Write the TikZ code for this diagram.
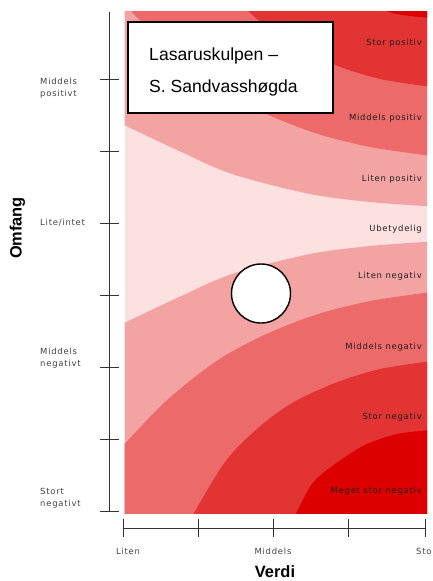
\documentclass[tikz,border=0pt]{standalone}
\usepackage{fontspec}
\setmainfont{Liberation Sans}
\newfontfamily\etikettfont[LetterSpace=9]{DejaVu Sans}
\usetikzlibrary{positioning}
\definecolor{cubet}{HTML}{FDE0E0}
\definecolor{cliten}{HTML}{F4A3A3}
\definecolor{cmiddels}{HTML}{ED6A6A}
\definecolor{cstor}{HTML}{E33434}
\definecolor{cmeget}{HTML}{DC0000}
\tikzset{
  akse/.style={draw=black!80, line width=0.8pt},
  etikett/.style={font=\etikettfont\fontsize{7.2}{10.2}\selectfont, text=black!75, inner sep=0pt},
  bandtekst/.style={etikett, text=black!88, anchor=east},
  aksetittel/.style={font=\bfseries\fontsize{14}{16}\selectfont, inner sep=0pt},
  tittelboks/.style={draw, line width=1.3pt, fill=white, minimum width=6.15cm, minimum height=2.73cm},
  tittel/.style={font=\fontsize{15}{18}\selectfont, anchor=base west, inner sep=0pt},
}
% one half of the fan (negative side), mirrored for the positive side
\newcommand{\bandhalvdel}{%
  \fill[cliten] plot[smooth] coordinates {(120,325) (177,298) (232,274) (310,254) (370,246) (432,241.5)} -- (432,520) -- (120,520) -- cycle;
  \fill[cmiddels] plot[smooth] coordinates {(120,449) (165,402) (215,362) (262,336) (315,315) (370,301) (432,292)} -- (432,520) -- (120,520) -- cycle;
  \fill[cstor] plot[smooth] coordinates {(190,520) (225,462) (258,428) (292,403) (335,383) (380,369) (432,361)} -- (432,520) -- cycle;
  \fill[cmeget] plot[smooth] coordinates {(293,520) (312,484) (335,464) (365,445) (397,434) (432,430)} -- (432,520) -- cycle;
}

\begin{document}
\begin{tikzpicture}[x=0.03cm, y=-0.03cm]
  \useasboundingbox (0,0) rectangle (433,581);
  % bands
  \begin{scope}
    \clip (124.5,11) rectangle (427,513);
    \fill[cubet] (124.5,11) rectangle (427,513);
    \bandhalvdel
    \begin{scope}[shift={(0,448)}, yscale=-1]
      \bandhalvdel
    \end{scope}
  \end{scope}
  \foreach \t/\y [count=\k] in {Stor positiv/43, Middels positiv/118, Liten positiv/179, Ubetydelig/229, Liten negativ/276, Middels negativ/347, Stor negativ/417, Meget stor negativ/491}
    \node[bandtekst] (band\k) at (422,\y) {\t};
  % Omfang axis
  \draw[akse] (109.5,12) -- (109.5,511);
  \foreach \y in {79,151,...,511} \draw[akse] (100,\y) -- (119,\y);
  \node[etikett, anchor=west, align=left] (mpos) at (40,88) {Middels\\positivt};
  \node[etikett, anchor=west] (lite) at (40,223) {Lite/intet};
  \node[etikett, anchor=west, align=left] (mneg) at (40,358) {Middels\\negativt};
  \node[etikett, anchor=west, align=left] (sneg) at (40,498) {Stort\\negativt};
  \node[aksetittel, rotate=90] (omfang) at (17.5,228) {Omfang};
  % Verdi axis
  \draw[akse] (123.5,528.5) -- (426,528.5);
  \foreach \x in {123.5,198.5,273.5,348.5,425.5} \draw[akse] (\x,519) -- (\x,537);
  \node[etikett] (liten) at (128,551) {Liten};
  \node[etikett] (middels) at (273,551) {Middels};
  \node[etikett] (stor) at (426,551) {Stor};
  \node[aksetittel] (verdi) at (275,571.5) {Verdi};
  % title and point
  \node[tittelboks] (boks) at (230.5,67.5) {};
  \node[tittel] (linje1) at (149,60) {Lasaruskulpen –};
  \node[tittel] (linje2) at (149,92) {S. Sandvasshøgda};
  \node[circle, draw, line width=1.2pt, fill=white, minimum size=1.77cm] (punkt) at (261,293.5) {};
\end{tikzpicture}
\end{document}
